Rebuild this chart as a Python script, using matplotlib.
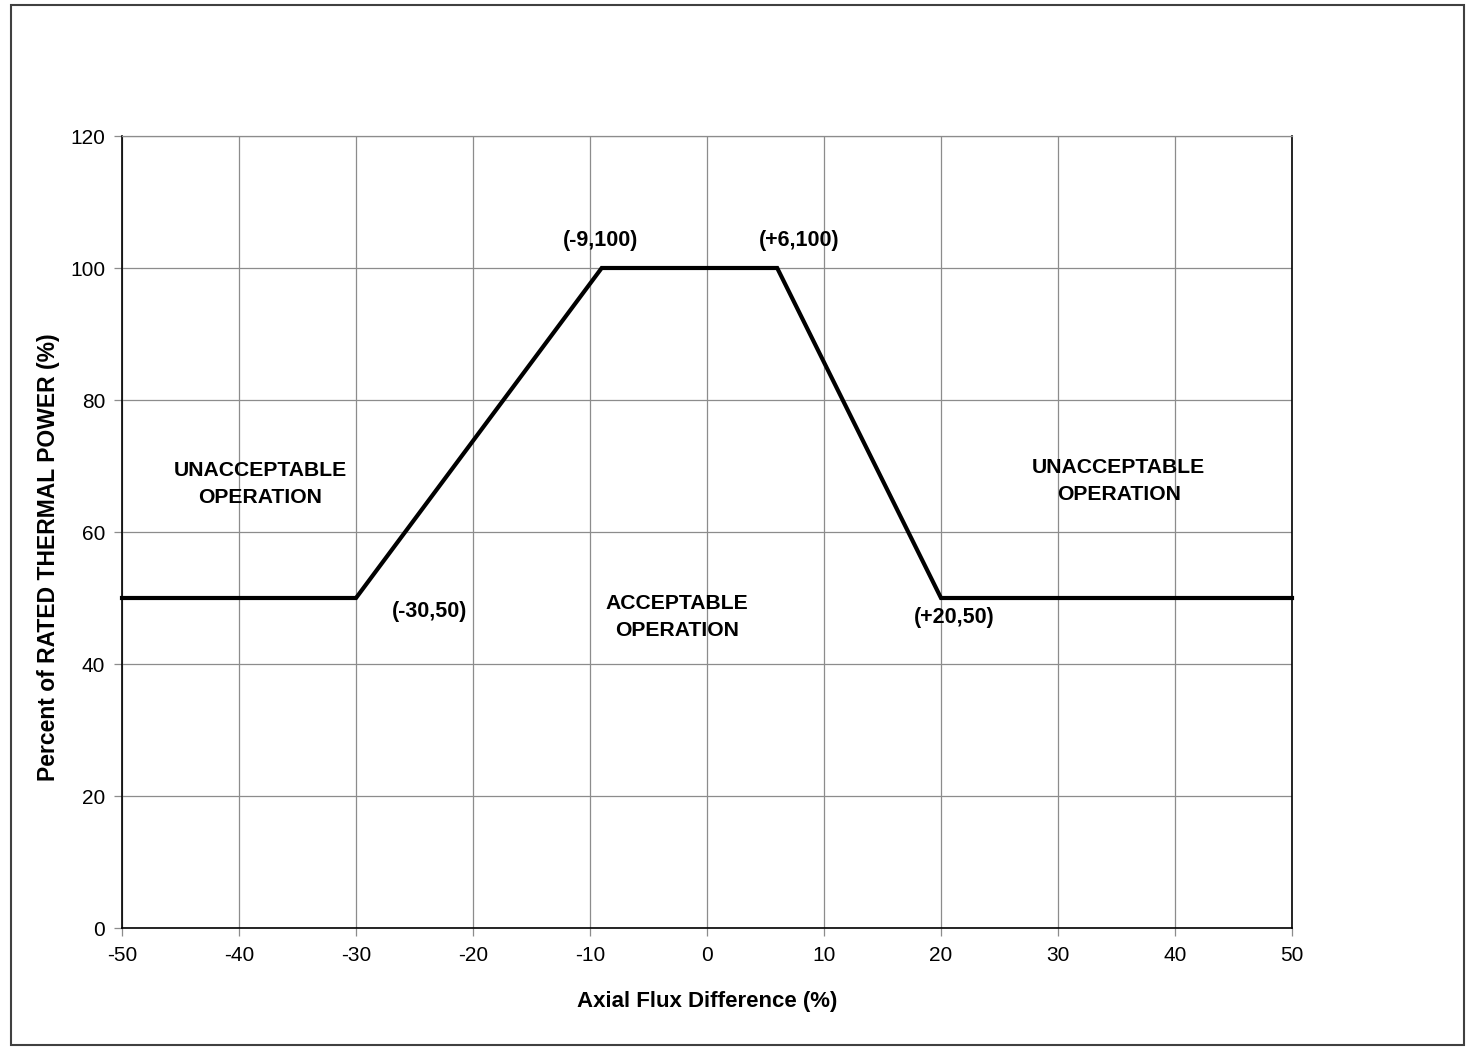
import matplotlib
matplotlib.use("Agg")
import matplotlib.pyplot as plt
from matplotlib.patches import Rectangle

plt.rcParams['font.family'] = ['Liberation Sans', 'DejaVu Sans']

# Operating limit envelope: axial flux difference (%) vs rated thermal power (%)
afd = [-50, -30, -9, 6, 20, 50]
power = [50, 50, 100, 100, 50, 50]

# Breakpoint annotations
point_labels = ["(-9,100)", "(+6,100)", "(-30,50)", "(+20,50)"]
point_label_x = [-9.1, 7.9, -23.7, 21.1]
point_label_y = [104.2, 104.2, 48.0, 47.0]

# Region annotations
region_labels = ["UNACCEPTABLE\nOPERATION", "UNACCEPTABLE\nOPERATION", "ACCEPTABLE\nOPERATION"]
region_x = [-38.2, 35.2, -2.6]
region_y = [67.3, 67.7, 47.1]

x_ticks = list(range(-50, 51, 10))
y_ticks = list(range(0, 121, 20))

fig = plt.figure(figsize=(14.69, 10.47), dpi=100)
fig.patches.append(Rectangle((11 / 1469, 2 / 1047), 1453 / 1469, 1040 / 1047,
                             transform=fig.transFigure, fill=False,
                             edgecolor='#404040', linewidth=1.5))

ax = fig.add_axes([122 / 1469, 119 / 1047, 1170 / 1469, 792 / 1047])
ax.set_xlim(-50, 50)
ax.set_ylim(0, 120)
ax.set_xticks(x_ticks)
ax.set_yticks(y_ticks)
ax.set_xticklabels([str(v) for v in x_ticks])
ax.set_yticklabels([str(v) for v in y_ticks])
ax.grid(True, color='#8c8c8c', linewidth=0.9)
ax.set_axisbelow(True)
ax.tick_params(axis='both', direction='out', length=6, width=0.9, color='#8c8c8c',
               labelsize=15)
ax.tick_params(axis='x', pad=7)
ax.tick_params(axis='y', pad=6)

for side in ['left', 'bottom', 'right']:
    ax.spines[side].set_color('black')
    ax.spines[side].set_linewidth(1.2)
ax.spines['top'].set_color('#8c8c8c')
ax.spines['top'].set_linewidth(0.9)

ax.plot(afd, power, color='black', linewidth=3.0, solid_joinstyle='miter',
        clip_on=False, zorder=3)

for lbl, x, y in zip(point_labels, point_label_x, point_label_y):
    ax.text(x, y, lbl, ha='center', va='center', fontsize=15.5, fontweight='bold')

for lbl, x, y in zip(region_labels, region_x, region_y):
    ax.text(x, y, lbl, ha='center', va='center', fontsize=15.2, fontweight='bold',
            linespacing=1.5)

ax.set_xlabel("Axial Flux Difference (%)", fontsize=16, fontweight='bold')
ax.xaxis.label.set_va('center')
ax.xaxis.set_label_coords(0.5, (928 - 1001) / 792)

ax.set_ylabel("Percent of RATED THERMAL POWER (%)", fontsize=16.5, fontweight='bold')
ax.yaxis.label.set_va('center')
ax.yaxis.label.set_ha('center')
ax.yaxis.set_label_coords((49 - 122) / 1170, (928 - 557) / 792)

fig.savefig("out.png", dpi=100, facecolor='white')
